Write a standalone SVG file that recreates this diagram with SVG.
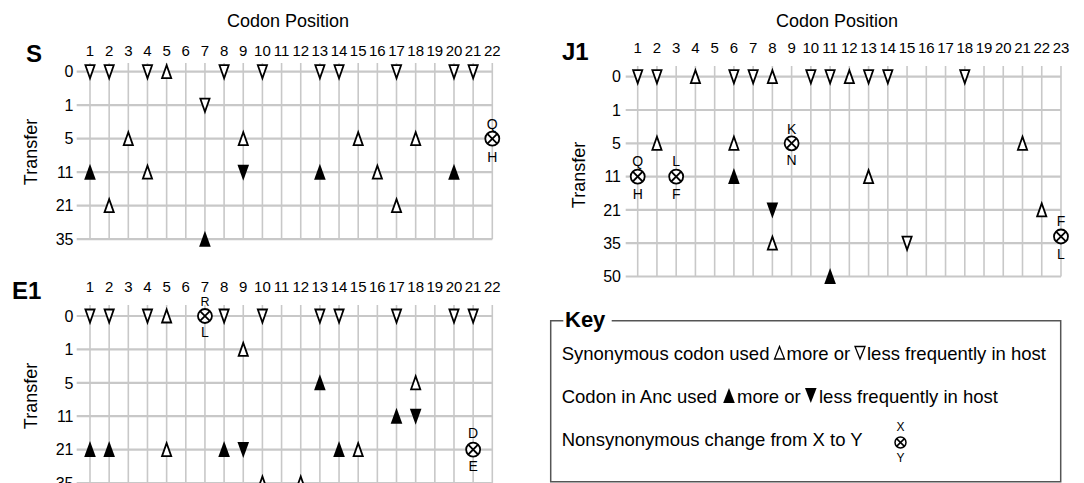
<svg xmlns="http://www.w3.org/2000/svg" width="1084" height="483" viewBox="0 0 1084 483">
<style>
text{font-family:"Liberation Sans",Arial,sans-serif;fill:#000}
.ax{font-size:15px}
.ax text{text-anchor:middle}
.rl{font-size:16px}
.rl text{text-anchor:end}
.ttl{font-size:24px;font-weight:bold}
.lab{font-size:18px;text-anchor:middle}
.ml{font-size:14px;text-anchor:middle}
.kt{font-size:18.5px}
.gh line{stroke:#c8c8c8;stroke-width:2.2}
.gv line{stroke:#c8c8c8;stroke-width:1.6}
.o{fill:#fff;stroke:#000;stroke-width:1.8;stroke-linejoin:miter}
.f{fill:#000}
.nx circle{fill:#fff;stroke:#000;stroke-width:1.8}
.nx line{stroke:#000;stroke-width:1.8}
</style>
<defs>
<polygon id="tu" class="o" points="0,-6.5 -4.6,6.5 4.6,6.5"/>
<polygon id="td" class="o" points="0,6.5 -4.6,-6.5 4.6,-6.5"/>
<polygon id="fu" class="f" points="0,-8.5 -5.8,7.5 5.8,7.5"/>
<polygon id="fd" class="f" points="0,8.5 -5.8,-7.5 5.8,-7.5"/>
<g id="nx" class="nx"><circle r="7"/><line x1="-4.9" y1="-4.9" x2="4.9" y2="4.9"/><line x1="-4.9" y1="4.9" x2="4.9" y2="-4.9"/></g>
<g id="nxs" class="nx"><circle r="5.5" style="stroke-width:1.5"/><line x1="-3.9" y1="-3.9" x2="3.9" y2="3.9" style="stroke-width:1.5"/><line x1="-3.9" y1="3.9" x2="3.9" y2="-3.9" style="stroke-width:1.5"/></g>
</defs>

<!-- ============ Panel S ============ -->
<g id="panel-S">
<text class="lab" x="288" y="27">Codon Position</text>
<text class="ttl" x="26" y="62">S</text>
<text class="lab" transform="translate(37,152) rotate(-90)">Transfer</text>
<g class="gv">
<line x1="90" y1="63" x2="90" y2="239.2"/><line x1="109.16" y1="63" x2="109.16" y2="239.2"/><line x1="128.31" y1="63" x2="128.31" y2="239.2"/><line x1="147.47" y1="63" x2="147.47" y2="239.2"/><line x1="166.63" y1="63" x2="166.63" y2="239.2"/><line x1="185.79" y1="63" x2="185.79" y2="239.2"/><line x1="204.94" y1="63" x2="204.94" y2="239.2"/><line x1="224.1" y1="63" x2="224.1" y2="239.2"/><line x1="243.26" y1="63" x2="243.26" y2="239.2"/><line x1="262.41" y1="63" x2="262.41" y2="239.2"/><line x1="281.57" y1="63" x2="281.57" y2="239.2"/><line x1="300.73" y1="63" x2="300.73" y2="239.2"/><line x1="319.89" y1="63" x2="319.89" y2="239.2"/><line x1="339.04" y1="63" x2="339.04" y2="239.2"/><line x1="358.2" y1="63" x2="358.2" y2="239.2"/><line x1="377.36" y1="63" x2="377.36" y2="239.2"/><line x1="396.51" y1="63" x2="396.51" y2="239.2"/><line x1="415.67" y1="63" x2="415.67" y2="239.2"/><line x1="434.83" y1="63" x2="434.83" y2="239.2"/><line x1="453.99" y1="63" x2="453.99" y2="239.2"/><line x1="473.14" y1="63" x2="473.14" y2="239.2"/><line x1="492.3" y1="63" x2="492.3" y2="239.2"/>
</g>
<g class="gh">
<line x1="76.7" y1="71.7" x2="492.3" y2="71.7"/><line x1="76.7" y1="105.2" x2="492.3" y2="105.2"/><line x1="76.7" y1="138.7" x2="492.3" y2="138.7"/><line x1="76.7" y1="172.2" x2="492.3" y2="172.2"/><line x1="76.7" y1="205.7" x2="492.3" y2="205.7"/><line x1="76.7" y1="239.2" x2="492.3" y2="239.2"/>
</g>
<g class="ax">
<text x="90" y="56">1</text><text x="109.16" y="56">2</text><text x="128.31" y="56">3</text><text x="147.47" y="56">4</text><text x="166.63" y="56">5</text><text x="185.79" y="56">6</text><text x="204.94" y="56">7</text><text x="224.1" y="56">8</text><text x="243.26" y="56">9</text><text x="262.41" y="56">10</text><text x="281.57" y="56">11</text><text x="300.73" y="56">12</text><text x="319.89" y="56">13</text><text x="339.04" y="56">14</text><text x="358.2" y="56">15</text><text x="377.36" y="56">16</text><text x="396.51" y="56">17</text><text x="415.67" y="56">18</text><text x="434.83" y="56">19</text><text x="453.99" y="56">20</text><text x="473.14" y="56">21</text><text x="492.3" y="56">22</text>
</g>
<g class="rl">
<text x="73.5" y="77.4">0</text><text x="73.5" y="110.9">1</text><text x="73.5" y="144.4">5</text><text x="73.5" y="177.9">11</text><text x="73.5" y="211.4">21</text><text x="73.5" y="244.9">35</text>
</g>
<g id="S-markers">
<use href="#td" x="90" y="71.7"/><use href="#td" x="109.16" y="71.7"/><use href="#td" x="147.47" y="71.7"/><use href="#tu" x="166.63" y="71.7"/><use href="#td" x="224.1" y="71.7"/><use href="#td" x="262.41" y="71.7"/><use href="#td" x="319.89" y="71.7"/><use href="#td" x="339.04" y="71.7"/><use href="#td" x="396.51" y="71.7"/><use href="#td" x="453.99" y="71.7"/><use href="#td" x="473.14" y="71.7"/>
<use href="#td" x="204.94" y="105.2"/>
<use href="#tu" x="128.31" y="138.7"/><use href="#tu" x="243.26" y="138.7"/><use href="#tu" x="358.2" y="138.7"/><use href="#tu" x="415.67" y="138.7"/>
<use href="#nx" x="492.3" y="138.7"/><text class="ml" x="492.3" y="128.5">Q</text><text class="ml" x="492.3" y="161.5">H</text>
<use href="#fu" x="90" y="172.2"/><use href="#tu" x="147.47" y="172.2"/><use href="#fd" x="243.26" y="172.2"/><use href="#fu" x="319.89" y="172.2"/><use href="#tu" x="377.36" y="172.2"/><use href="#fu" x="453.99" y="172.2"/>
<use href="#tu" x="109.16" y="205.7"/><use href="#tu" x="396.51" y="205.7"/>
<use href="#fu" x="204.94" y="239.2"/>
</g>
</g>

<!-- ============ Panel E1 ============ -->
<g id="panel-E1">
<text class="ttl" x="12" y="299">E1</text>
<text class="lab" transform="translate(37,396) rotate(-90)">Transfer</text>
<g class="gv">
<line x1="90" y1="305" x2="90" y2="490"/><line x1="109.16" y1="305" x2="109.16" y2="490"/><line x1="128.31" y1="305" x2="128.31" y2="490"/><line x1="147.47" y1="305" x2="147.47" y2="490"/><line x1="166.63" y1="305" x2="166.63" y2="490"/><line x1="185.79" y1="305" x2="185.79" y2="490"/><line x1="204.94" y1="305" x2="204.94" y2="490"/><line x1="224.1" y1="305" x2="224.1" y2="490"/><line x1="243.26" y1="305" x2="243.26" y2="490"/><line x1="262.41" y1="305" x2="262.41" y2="490"/><line x1="281.57" y1="305" x2="281.57" y2="490"/><line x1="300.73" y1="305" x2="300.73" y2="490"/><line x1="319.89" y1="305" x2="319.89" y2="490"/><line x1="339.04" y1="305" x2="339.04" y2="490"/><line x1="358.2" y1="305" x2="358.2" y2="490"/><line x1="377.36" y1="305" x2="377.36" y2="490"/><line x1="396.51" y1="305" x2="396.51" y2="490"/><line x1="415.67" y1="305" x2="415.67" y2="490"/><line x1="434.83" y1="305" x2="434.83" y2="490"/><line x1="453.99" y1="305" x2="453.99" y2="490"/><line x1="473.14" y1="305" x2="473.14" y2="490"/><line x1="492.3" y1="305" x2="492.3" y2="490"/>
</g>
<g class="gh">
<line x1="76.7" y1="316" x2="492.3" y2="316"/><line x1="76.7" y1="349.4" x2="492.3" y2="349.4"/><line x1="76.7" y1="382.8" x2="492.3" y2="382.8"/><line x1="76.7" y1="416.2" x2="492.3" y2="416.2"/><line x1="76.7" y1="449.6" x2="492.3" y2="449.6"/><line x1="76.7" y1="483" x2="492.3" y2="483"/>
</g>
<g class="ax">
<text x="90" y="292">1</text><text x="109.16" y="292">2</text><text x="128.31" y="292">3</text><text x="147.47" y="292">4</text><text x="166.63" y="292">5</text><text x="185.79" y="292">6</text><text x="204.94" y="292">7</text><text x="224.1" y="292">8</text><text x="243.26" y="292">9</text><text x="262.41" y="292">10</text><text x="281.57" y="292">11</text><text x="300.73" y="292">12</text><text x="319.89" y="292">13</text><text x="339.04" y="292">14</text><text x="358.2" y="292">15</text><text x="377.36" y="292">16</text><text x="396.51" y="292">17</text><text x="415.67" y="292">18</text><text x="434.83" y="292">19</text><text x="453.99" y="292">20</text><text x="473.14" y="292">21</text><text x="492.3" y="292">22</text>
</g>
<g class="rl">
<text x="73.5" y="321.7">0</text><text x="73.5" y="355.1">1</text><text x="73.5" y="388.5">5</text><text x="73.5" y="421.9">11</text><text x="73.5" y="455.3">21</text><text x="73.5" y="488.7">35</text>
</g>
<g id="E1-markers">
<use href="#td" x="90" y="316"/><use href="#td" x="109.16" y="316"/><use href="#td" x="147.47" y="316"/><use href="#tu" x="166.63" y="316"/>
<use href="#nx" x="204.94" y="316"/><text class="ml" style="font-size:12.5px" x="204.94" y="305.5">R</text><text class="ml" x="204.94" y="337">L</text>
<use href="#td" x="224.1" y="316"/><use href="#td" x="262.41" y="316"/><use href="#td" x="319.89" y="316"/><use href="#td" x="339.04" y="316"/><use href="#td" x="396.51" y="316"/><use href="#td" x="453.99" y="316"/><use href="#td" x="473.14" y="316"/>
<use href="#tu" x="243.26" y="349.4"/>
<use href="#fu" x="319.89" y="382.8"/><use href="#tu" x="415.67" y="382.8"/>
<use href="#fu" x="396.51" y="416.2"/><use href="#fd" x="415.67" y="416.2"/>
<use href="#fu" x="90" y="449.6"/><use href="#fu" x="109.16" y="449.6"/><use href="#tu" x="166.63" y="449.6"/><use href="#fu" x="224.1" y="449.6"/><use href="#fd" x="243.26" y="449.6"/><use href="#fu" x="339.04" y="449.6"/><use href="#tu" x="358.2" y="449.6"/>
<use href="#nx" x="473.14" y="449.6"/><text class="ml" x="473.14" y="437.5">D</text><text class="ml" x="473.14" y="471">E</text>
<use href="#tu" x="262.41" y="483"/><use href="#tu" x="300.73" y="483"/>
</g>
</g>

<!-- ============ Panel J1 ============ -->
<g id="panel-J1">
<text class="lab" x="837" y="27">Codon Position</text>
<text class="ttl" x="562" y="60">J1</text>
<text class="lab" transform="translate(585,175) rotate(-90)">Transfer</text>
<g class="gv">
<line x1="637.7" y1="66" x2="637.7" y2="276.5"/><line x1="656.94" y1="66" x2="656.94" y2="276.5"/><line x1="676.18" y1="66" x2="676.18" y2="276.5"/><line x1="695.42" y1="66" x2="695.42" y2="276.5"/><line x1="714.66" y1="66" x2="714.66" y2="276.5"/><line x1="733.9" y1="66" x2="733.9" y2="276.5"/><line x1="753.14" y1="66" x2="753.14" y2="276.5"/><line x1="772.38" y1="66" x2="772.38" y2="276.5"/><line x1="791.62" y1="66" x2="791.62" y2="276.5"/><line x1="810.86" y1="66" x2="810.86" y2="276.5"/><line x1="830.1" y1="66" x2="830.1" y2="276.5"/><line x1="849.34" y1="66" x2="849.34" y2="276.5"/><line x1="868.58" y1="66" x2="868.58" y2="276.5"/><line x1="887.82" y1="66" x2="887.82" y2="276.5"/><line x1="907.06" y1="66" x2="907.06" y2="276.5"/><line x1="926.3" y1="66" x2="926.3" y2="276.5"/><line x1="945.54" y1="66" x2="945.54" y2="276.5"/><line x1="964.78" y1="66" x2="964.78" y2="276.5"/><line x1="984.02" y1="66" x2="984.02" y2="276.5"/><line x1="1003.26" y1="66" x2="1003.26" y2="276.5"/><line x1="1022.5" y1="66" x2="1022.5" y2="276.5"/><line x1="1041.74" y1="66" x2="1041.74" y2="276.5"/><line x1="1060.98" y1="66" x2="1060.98" y2="276.5"/>
</g>
<g class="gh">
<line x1="625.7" y1="76.7" x2="1061" y2="76.7"/><line x1="625.7" y1="110" x2="1061" y2="110"/><line x1="625.7" y1="143.3" x2="1061" y2="143.3"/><line x1="625.7" y1="176.6" x2="1061" y2="176.6"/><line x1="625.7" y1="209.9" x2="1061" y2="209.9"/><line x1="625.7" y1="243.2" x2="1061" y2="243.2"/><line x1="625.7" y1="276.5" x2="1061" y2="276.5"/>
</g>
<g class="ax">
<text x="637.7" y="53.3">1</text><text x="656.94" y="53.3">2</text><text x="676.18" y="53.3">3</text><text x="695.42" y="53.3">4</text><text x="714.66" y="53.3">5</text><text x="733.9" y="53.3">6</text><text x="753.14" y="53.3">7</text><text x="772.38" y="53.3">8</text><text x="791.62" y="53.3">9</text><text x="810.86" y="53.3">10</text><text x="830.1" y="53.3">11</text><text x="849.34" y="53.3">12</text><text x="868.58" y="53.3">13</text><text x="887.82" y="53.3">14</text><text x="907.06" y="53.3">15</text><text x="926.3" y="53.3">16</text><text x="945.54" y="53.3">17</text><text x="964.78" y="53.3">18</text><text x="984.02" y="53.3">19</text><text x="1003.26" y="53.3">20</text><text x="1022.5" y="53.3">21</text><text x="1041.74" y="53.3">22</text><text x="1060.98" y="53.3">23</text>
</g>
<g class="rl">
<text x="621" y="82.4">0</text><text x="621" y="115.7">1</text><text x="621" y="149">5</text><text x="621" y="182.3">11</text><text x="621" y="215.6">21</text><text x="621" y="248.9">35</text><text x="621" y="282.2">50</text>
</g>
<g id="J1-markers">
<use href="#td" x="637.7" y="76.7"/><use href="#td" x="656.94" y="76.7"/><use href="#tu" x="695.42" y="76.7"/><use href="#td" x="733.9" y="76.7"/><use href="#td" x="753.14" y="76.7"/><use href="#tu" x="772.38" y="76.7"/><use href="#td" x="810.86" y="76.7"/><use href="#td" x="830.1" y="76.7"/><use href="#tu" x="849.34" y="76.7"/><use href="#td" x="868.58" y="76.7"/><use href="#td" x="887.82" y="76.7"/><use href="#td" x="964.78" y="76.7"/>
<use href="#tu" x="656.94" y="143.3"/><use href="#tu" x="733.9" y="143.3"/>
<use href="#nx" x="791.62" y="143.3"/><text class="ml" x="791.62" y="133.5">K</text><text class="ml" x="791.62" y="165">N</text>
<use href="#tu" x="1022.5" y="143.3"/>
<use href="#nx" x="637.7" y="176.6"/><text class="ml" x="637.7" y="166">Q</text><text class="ml" x="637.7" y="198.5">H</text>
<use href="#nx" x="676.18" y="176.6"/><text class="ml" x="676.18" y="166">L</text><text class="ml" x="676.18" y="198.5">F</text>
<use href="#fu" x="733.9" y="176.6"/><use href="#tu" x="868.58" y="176.6"/>
<use href="#fd" x="772.38" y="209.9"/><use href="#tu" x="1041.74" y="209.9"/>
<use href="#tu" x="772.38" y="243.2"/><use href="#td" x="907.06" y="243.2"/>
<use href="#nx" x="1060.98" y="236.5"/><text class="ml" x="1060.98" y="226">F</text><text class="ml" x="1060.98" y="258.5">L</text>
<use href="#fu" x="830.1" y="276.5"/>
</g>
</g>

<!-- ============ Key ============ -->
<g id="key">
<path d="M563.3 320.7 H550.7 V481.7 H1060.7 V320.7 H611.7" fill="none" stroke="#555" stroke-width="1.5"/>
<text class="ttl" style="font-size:22px" x="565" y="327">Key</text>
<text class="kt" x="561.7" y="359.5">Synonymous codon used</text>
<polygon class="o" style="stroke-width:1.3" points="779.5,346.5 774.5,359 784.5,359"/>
<text class="kt" x="786.5" y="359.5">more or</text>
<polygon class="o" style="stroke-width:1.3" points="860,359 855,346.5 865,346.5"/>
<text class="kt" x="867" y="359.5">less frequently in host</text>
<text class="kt" x="561.7" y="402.5">Codon in Anc used</text>
<polygon class="f" points="729,388 723.2,403 734.8,403"/>
<text class="kt" x="737" y="402.5">more or</text>
<polygon class="f" points="810.8,403 805,388 816.6,388"/>
<text class="kt" x="819" y="402.5">less frequently in host</text>
<text class="kt" x="561.7" y="445.5">Nonsynonymous change from X to Y</text>
<use href="#nxs" x="900.5" y="442.5"/>
<text class="ml" style="font-size:12px" x="900.5" y="431">X</text>
<text class="ml" style="font-size:12px" x="900.5" y="461.5">Y</text>
</g>
</svg>
